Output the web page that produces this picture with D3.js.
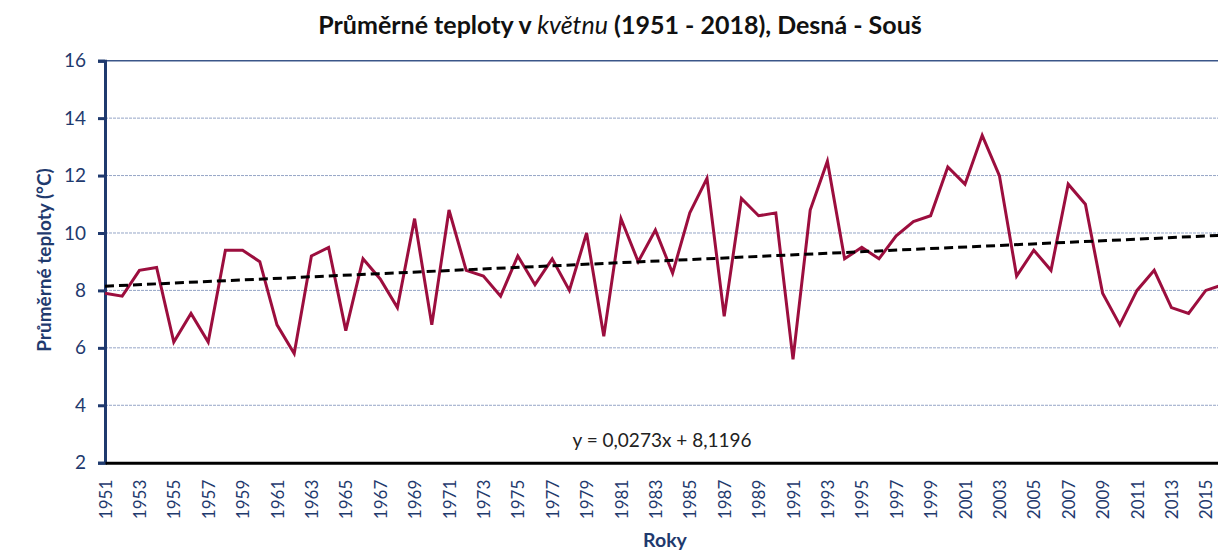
<!DOCTYPE html>
<html>
<head>
<meta charset="utf-8">
<script src="https://cdn.jsdelivr.net/npm/d3@7"></script>
<style>
  html, body { margin: 0; padding: 0; background: #fff; overflow: hidden; }
  svg { display: block; font-family: Lato, "Open Sans", sans-serif; }
</style>
</head>
<body>
<svg id="chart" width="1218" height="559"></svg>
<script>
// Mean May temperature at Desná - Souš, 1951–2018 (°C)
const years = d3.range(1951, 2019);
const temps = [
  7.9, 7.8, 8.7, 8.8, 6.2, 7.2, 6.2, 9.4, 9.4, 9.0,
  6.8, 5.8, 9.2, 9.5, 6.6, 9.1, 8.4, 7.4, 10.5, 6.8,
  10.8, 8.7, 8.5, 7.8, 9.2, 8.2, 9.1, 8.0, 10.0, 6.4,
  10.5, 9.0, 10.1, 8.6, 10.7, 11.9, 7.1, 11.2, 10.6, 10.7,
  5.6, 10.8, 12.5, 9.1, 9.5, 9.1, 9.9, 10.4, 10.6, 12.3,
  11.7, 13.4, 12.0, 8.5, 9.4, 8.7, 11.7, 11.0, 7.9, 6.8,
  8.0, 8.7, 7.4, 7.2, 8.0, 8.2, 9.2, 10.8
];
// Linear trend, x = 1 for the first year
const trendSlope = 0.0273;
const trendIntercept = 8.1196;
const trendLabel = "y = 0,0273x + 8,1196";

const yTicks = [2, 4, 6, 8, 10, 12, 14, 16];

const navy = "#1F3A6E";
const width = 1218;
const svg = d3.select("#chart");

const plotLeft = 105, plotTop = 60.7, plotBottom = 462.7;
const x = d3.scaleLinear().domain([1951, 2018]).range([plotLeft, plotLeft + 67 * 17.2]);
const y = d3.scaleLinear().domain([2, 16]).range([plotBottom, plotTop]);

// every second year is labelled; only those inside the visible width are drawn
const xTickYears = years.filter(yr => (yr - 1951) % 2 === 0 && x(yr) < width - 5);

// Title
const title = svg.append("text")
  .attr("x", 620).attr("y", 34)
  .attr("text-anchor", "middle")
  .attr("font-size", 25).attr("font-weight", "bold").attr("fill", "#111");
title.append("tspan").text("Průměrné teploty v ");
title.append("tspan").attr("font-style", "italic").attr("font-weight", "normal").text("květnu");
title.append("tspan").text(" (1951 - 2018), Desná - Souš");

// Horizontal gridlines
svg.append("g").selectAll("line")
  .data(yTicks.filter(v => v > 2 && v < 16))
  .join("line")
  .attr("x1", plotLeft).attr("x2", width)
  .attr("y1", d => y(d)).attr("y2", d => y(d))
  .attr("stroke", "#95A5C6").attr("stroke-width", 1)
  .attr("stroke-dasharray", "3,1");

// Top border of the plot area
svg.append("line")
  .attr("x1", plotLeft).attr("x2", width)
  .attr("y1", y(16)).attr("y2", y(16))
  .attr("stroke", "#3B5689").attr("stroke-width", 1.5);

// Y axis
const yAxis = svg.append("g")
  .attr("transform", `translate(${plotLeft},0)`)
  .call(d3.axisLeft(y).tickValues(yTicks).tickSize(7).tickPadding(12));
yAxis.select(".domain").attr("stroke", navy).attr("stroke-width", 3);
yAxis.selectAll(".tick line").attr("stroke", navy).attr("stroke-width", 3);
yAxis.selectAll(".tick text")
  .attr("fill", navy).attr("font-size", 19).attr("font-family", "Lato, sans-serif");

// X axis
const xAxis = svg.append("g")
  .attr("transform", `translate(0,${plotBottom})`)
  .call(d3.axisBottom(x).tickValues(xTickYears).tickFormat(d3.format("d")).tickSize(0));
xAxis.select(".domain").attr("stroke", "#000").attr("stroke-width", 3);
xAxis.selectAll(".tick text")
  .attr("fill", navy).attr("font-size", 17).attr("font-family", "Lato, sans-serif")
  .attr("text-anchor", "end")
  .attr("transform", "translate(0,17) rotate(-90)")
  .attr("dx", 0).attr("dy", "0.36em").attr("y", 0);

// Temperature series
const line = d3.line().x((d, i) => x(years[i])).y(d => y(d));
svg.append("path")
  .datum(temps)
  .attr("fill", "none")
  .attr("stroke", "#9C0E3E")
  .attr("stroke-width", 3)
  .attr("stroke-linejoin", "miter")
  .attr("d", line);

// Trend line
const trendAt = yr => trendSlope * (yr - 1950) + trendIntercept;
svg.append("line")
  .attr("x1", x(1951)).attr("y1", y(trendAt(1951)))
  .attr("x2", x(2018)).attr("y2", y(trendAt(2018)))
  .attr("stroke", "#000").attr("stroke-width", 3)
  .attr("stroke-dasharray", "9,5");

svg.append("text")
  .attr("x", 662).attr("y", 447)
  .attr("text-anchor", "middle")
  .attr("font-size", 19).attr("fill", "#222")
  .text(trendLabel);

// Axis titles
svg.append("text")
  .attr("transform", "translate(51,260) rotate(-90)")
  .attr("text-anchor", "middle")
  .attr("font-size", 19).attr("font-weight", "bold").attr("fill", navy)
  .text("Průměrné teploty (°C)");

svg.append("text")
  .attr("x", 665).attr("y", 547)
  .attr("text-anchor", "middle")
  .attr("font-size", 19.5).attr("font-weight", "bold").attr("fill", navy)
  .text("Roky");
</script>
</body>
</html>
